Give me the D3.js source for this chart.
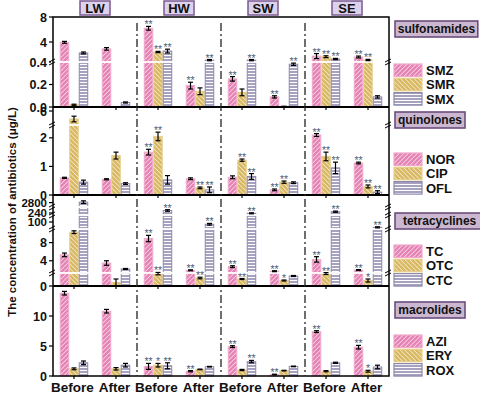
<!DOCTYPE html>
<html lang="en">
<head>
<meta charset="UTF-8" />
<title>Antibiotics before and after</title>
<script src="https://d3js.org/d3.v7.min.js"></script>
<style>
  body { margin: 0; background: #fff; font-family: Arial, "Liberation Sans", sans-serif; }
  svg { display: block; }
  text { font-weight: bold; fill: #111; }
</style>
</head>
<body>
<svg width="480" height="396"></svg>
<script>
const sites = ["LW", "HW", "SW", "SE"];
const groups = ["Before", "After", "Before", "After", "Before", "After", "Before", "After"];
const classes = ["sulfonamides", "quinolones", "tetracyclines", "macrolides"];
const compounds = [["SMZ", "SMR", "SMX"], ["NOR", "CIP", "OFL"], ["TC", "OTC", "CTC"], ["AZI", "ERY", "ROX"]];

// concentrations (ug/L), order: LW-B, LW-A, HW-B, HW-A, SW-B, SW-A, SE-B, SE-A
const SMZ = [3.95, 2.9, 6.2, 0.19, 0.25, 0.09, 1.75, 1.6];
const SMR = [0.02, 0, 2.4, 0.14, 0.13, 0.005, 1.65, 1.12];
const SMX = [2.25, 0.04, 2.55, 1.1, 1.1, 0.38, 1.28, 0.09];
const NOR = [0.6, 0.55, 1.5, 0.57, 0.62, 0.18, 2.1, 1.12];
const CIP = [4.0, 1.38, 2.05, 0.25, 1.22, 0.45, 1.35, 0.3];
const OFL = [0.45, 0.4, 0.53, 0.18, 0.65, 0.43, 0.95, 0.1];
const TC  = [5.3, 3.5, 8.9, 1.9, 2.7, 1.7, 4.3, 1.95];
const OTC = [10.3, 0.35, 1.27, 0.8, 0.7, 0.55, 1.27, 0.55];
const CTC = [2810, 2.2, 265, 92, 237, 1.0, 253, 81];
const AZI = [13.8, 10.8, 1.6, 0.8, 4.9, 0.25, 7.4, 4.8];
const ERY = [1.2, 1.2, 1.8, 1.1, 1.0, 0.9, 0.8, 0.8];
const ROX = [2.2, 1.8, 1.7, 1.55, 2.4, 1.6, 2.2, 1.5];

// standard deviations
const SMZ_err = [0.15, 0.2, 0.3, 0.03, 0.02, 0.01, 0.4, 0.15];
const SMR_err = [0.005, 0, 0.1, 0.03, 0.03, 0.002, 0.15, 0.1];
const SMX_err = [0.15, 0.005, 0.3, 0.1, 0.1, 0.01, 0.1, 0.01];
const NOR_err = [0.02, 0.02, 0.1, 0.03, 0.05, 0.03, 0.05, 0.03];
const CIP_err = [0.7, 0.12, 0.15, 0.03, 0.04, 0.04, 0.15, 0.05];
const OFL_err = [0.07, 0.03, 0.15, 0.1, 0.1, 0.03, 0.2, 0.05];
const TC_err  = [0.4, 0.5, 0.7, 0.1, 0.2, 0.1, 0.6, 0.1];
const OTC_err = [0.3, 0.35, 0.15, 0.08, 0.05, 0.05, 0.12, 0.15];
const CTC_err = [30, 0.1, 8, 3, 5, 0.05, 6, 2];
const AZI_err = [0.3, 0.3, 0.5, 0.1, 0.15, 0.05, 0.15, 0.3];
const ERY_err = [0.15, 0.2, 0.3, 0.05, 0.1, 0.05, 0.1, 0.15];
const ROX_err = [0.3, 0.3, 0.5, 0.05, 0.2, 0.05, 0.1, 0.3];

// significance marks
const SMZ_sig = ["", "", "**", "**", "**", "**", "**", "**"];
const SMR_sig = ["", "", "**", "", "", "", "**", "**"];
const SMX_sig = ["", "", "**", "**", "**", "**", "**", ""];
const NOR_sig = ["", "", "**", "", "", "**", "**", "**"];
const CIP_sig = ["", "", "**", "**", "**", "**", "**", "**"];
const OFL_sig = ["", "", "", "**", "**", "", "**", "**"];
const TC_sig  = ["", "", "**", "**", "**", "**", "**", "**"];
const OTC_sig = ["", "", "**", "**", "**", "*", "**", "*"];
const CTC_sig = ["", "", "**", "**", "**", "", "**", "**"];
const AZI_sig = ["", "", "**", "**", "**", "**", "**", "**"];
const ERY_sig = ["", "", "*", "", "", "", "", "*"];
const ROX_sig = ["", "", "**", "", "**", "", "", ""];

const yTicks = [[0, 0.2, 0.4, 4, 8], [0, 1, 2, 6], [0, 4, 8, 100, 240, 2800], [0, 5, 10]];

const values = [[SMZ, SMR, SMX], [NOR, CIP, OFL], [TC, OTC, CTC], [AZI, ERY, ROX]];
const errors = [[SMZ_err, SMR_err, SMX_err], [NOR_err, CIP_err, OFL_err], [TC_err, OTC_err, CTC_err], [AZI_err, ERY_err, ROX_err]];
const sigs = [[SMZ_sig, SMR_sig, SMX_sig], [NOR_sig, CIP_sig, OFL_sig], [TC_sig, OTC_sig, CTC_sig], [AZI_sig, ERY_sig, ROX_sig]];

const svg = d3.select("svg");
const plotL = 53, plotR = 389, plotT = 17, plotB = 376;

// broken y axes, one per panel
const panels = [
  { y0: 17, y1: 107, segs: [{ d: [0, 0.4], r: [107, 62] }, { d: [0.8, 8], r: [62, 17] }] },
  { y0: 107, y1: 195, segs: [{ d: [0, 2.45], r: [195, 125] }, { d: [2.5, 7], r: [125, 107] }] },
  { y0: 195, y1: 286, segs: [{ d: [0, 1.3], r: [286, 273] }, { d: [1.3, 11], r: [273, 229] },
                               { d: [75, 125], r: [229, 215] }, { d: [220, 300], r: [215, 207] },
                               { d: [2700, 2950], r: [207, 196] }] },
  { y0: 286, y1: 376, segs: [{ d: [0, 15], r: [376, 286] }] }
];

function brokenScale(segs) {
  const sc = segs.map(s => d3.scaleLinear().domain(s.d).range(s.r));
  return v => {
    for (let i = 0; i < segs.length; i++) {
      if (v <= segs[i].d[1] || i === segs.length - 1) {
        if (i > 0 && v < segs[i].d[0]) return segs[i].r[0];
        return Math.max(sc[i](v), segs[segs.length - 1].r[1]);
      }
    }
  };
}

const x = d3.scaleLinear().domain([0.5, 8.5]).range([plotL, plotR]);
const bw = 0.226;
const barW = x(bw) - x(0);

const fills = ["#e683b5", "#d9b862", "#a6a2bf"];
const strokes = ["#f0a9cc", "#e6cf8c", "#8e89ab"];

// hatch patterns
const defs = svg.append("defs");
[45, -45, 0].forEach((rot, k) => {
  const p = defs.append("pattern")
    .attr("id", "hatch" + k)
    .attr("patternUnits", "userSpaceOnUse")
    .attr("width", k === 2 ? 6 : 3.2)
    .attr("height", k === 2 ? 3 : 3.2)
    .attr("patternTransform", k === 2 ? null : `rotate(${rot})`);
  p.append("rect").attr("width", 6).attr("height", 6).attr("fill", fills[k]);
  if (k === 2) {
    p.append("line").attr("x1", 0).attr("x2", 6).attr("y1", 1.5).attr("y2", 1.5)
      .attr("stroke", "#fff").attr("stroke-width", 1);
  } else {
    p.append("line").attr("x1", 0).attr("x2", 0).attr("y1", 0).attr("y2", 3.2)
      .attr("stroke", "#fff").attr("stroke-width", 1.1);
  }
});

panels.forEach((pn, pi) => {
  const y = brokenScale(pn.segs);
  const g = svg.append("g");

  values[pi].forEach((series, j) => {
    const cx = i => x(i + 1 + (j - 1) * bw);
    g.append("g").selectAll("rect")
      .data(series)
      .join("rect")
      .attr("x", (d, i) => cx(i) - barW / 2 + 0.5)
      .attr("width", barW - 1)
      .attr("y", d => y(d))
      .attr("height", d => Math.max(0, y(0) - y(d)))
      .attr("fill", `url(#hatch${j})`)
      .attr("stroke", strokes[j])
      .attr("stroke-width", 1);
  });

  // white gaps at the breaks
  pn.segs.slice(1).forEach(s => {
    g.append("rect").attr("x", plotL + 1).attr("width", plotR - plotL - 2)
      .attr("y", s.r[0] - 0.9).attr("height", 1.8).attr("fill", "#fff");
  });

  values[pi].forEach((series, j) => {
    const cx = i => x(i + 1 + (j - 1) * bw);
    const err = errors[pi][j];
    const eb = g.append("g").attr("stroke", "#000").attr("stroke-width", 1.2);
    series.forEach((v, i) => {
      const yt = y(v + err[i]), yb = y(Math.max(0, v - err[i]));
      eb.append("line").attr("x1", cx(i)).attr("x2", cx(i)).attr("y1", yt).attr("y2", yb);
      eb.append("line").attr("x1", cx(i) - 2.5).attr("x2", cx(i) + 2.5).attr("y1", yt).attr("y2", yt);
      eb.append("line").attr("x1", cx(i) - 2.5).attr("x2", cx(i) + 2.5).attr("y1", yb).attr("y2", yb);
    });
    g.append("g").selectAll("text")
      .data(sigs[pi][j])
      .join("text")
      .attr("x", (d, i) => cx(i))
      .attr("y", (d, i) => y(series[i] + err[i]) + 2)
      .attr("text-anchor", "middle")
      .attr("font-size", 10.5)
      .style("font-weight", "normal")
      .style("fill", "#4e5f7c")
      .text(d => d);
  });

  // y ticks
  yTicks[pi].forEach(t => {
    const yy = y(t);
    g.append("line").attr("x1", plotL - 4).attr("x2", plotL).attr("y1", yy).attr("y2", yy)
      .attr("stroke", "#000").attr("stroke-width", 1.2);
    g.append("text").attr("x", plotL - 6).attr("y", yy).attr("dy", "0.36em")
      .attr("text-anchor", "end").attr("font-size", pi === 2 && t > 8 ? 11.5 : 12.5)
      .text(pi === 0 && t < 1 ? d3.format(".1f")(t) : t);
  });

  // break marks on both axes
  pn.segs.slice(1).forEach(s => {
    [plotL, plotR].forEach(ax => {
      g.append("rect").attr("x", ax - 2).attr("width", 4).attr("y", s.r[0] - 1.2).attr("height", 2.4).attr("fill", "#fff");
      [-1.5, 1.5].forEach(o => {
        g.append("line").attr("x1", ax - 4).attr("x2", ax + 2)
          .attr("y1", s.r[0] + o + 1.5).attr("y2", s.r[0] + o - 1.5)
          .attr("stroke", "#000").attr("stroke-width", 1);
      });
    });
  });

  // x ticks at panel bottom
  groups.forEach((gName, i) => {
    g.append("line").attr("x1", x(i + 1)).attr("x2", x(i + 1)).attr("y1", pn.y1).attr("y2", pn.y1 + 3)
      .attr("stroke", "#000").attr("stroke-width", 1.2);
  });

  // class label and legend
  const lx = 395;
  const ly = [21, 112, 213, 302][pi];
  const lw = classes[pi].length * 6.4 + 6;
  svg.append("rect").attr("x", lx).attr("y", ly).attr("width", lw).attr("height", 16)
    .attr("fill", "#cbb7d0").attr("stroke", "#6b4d7e").attr("stroke-width", 1.6);
  svg.append("text").attr("x", lx + lw / 2).attr("y", ly + 12).attr("text-anchor", "middle")
    .attr("font-size", 12).text(classes[pi]);

  const sy = [64, 153, 245, 335][pi];
  compounds[pi].forEach((c, j) => {
    svg.append("rect").attr("x", lx - 1).attr("y", sy + j * 14.3).attr("width", 28).attr("height", 12.5)
      .attr("fill", `url(#hatch${j})`).attr("stroke", strokes[j]).attr("stroke-width", 1.2);
    svg.append("text").attr("x", lx + 31).attr("y", sy + j * 14.3 + 11)
      .attr("font-size", 13).text(c);
  });
});

// frame and panel separators
svg.append("rect").attr("x", plotL).attr("y", plotT).attr("width", plotR - plotL).attr("height", plotB - plotT)
  .attr("fill", "none").attr("stroke", "#000").attr("stroke-width", 1.5);
panels.slice(1).forEach(pn => {
  svg.append("line").attr("x1", plotL).attr("x2", plotR).attr("y1", pn.y0).attr("y2", pn.y0)
    .attr("stroke", "#000").attr("stroke-width", 1.8);
});

// site separators
[2.5, 4.5, 6.5].forEach(s => {
  svg.append("line").attr("x1", x(s)).attr("x2", x(s)).attr("y1", plotT + 6).attr("y2", plotB)
    .attr("stroke", "#222").attr("stroke-width", 1.3).attr("stroke-dasharray", "8,3,2,3");
});

// site boxes
sites.forEach((s, k) => {
  const cx = x(2 * k + 1.5);
  svg.append("rect").attr("x", cx - 15).attr("y", 1).attr("width", 30).attr("height", 14)
    .attr("fill", "#ddd2ec").attr("stroke", "#7a5a92").attr("stroke-width", 1.5);
  svg.append("text").attr("x", cx).attr("y", 12.5).attr("text-anchor", "middle")
    .attr("font-size", 13).text(s);
});

// x labels
svg.append("g").selectAll("text")
  .data(groups)
  .join("text")
  .attr("x", (d, i) => x(i + 1) - 1.5)
  .attr("y", 392)
  .attr("text-anchor", "middle")
  .attr("font-size", 13.5)
  .text(d => d);

// y title
svg.append("text")
  .attr("transform", "translate(16,212) rotate(-90)")
  .attr("text-anchor", "middle")
  .attr("font-size", 11.5)
  .text("The concentration of antibiotics (μg/L)");
</script>
</body>
</html>
